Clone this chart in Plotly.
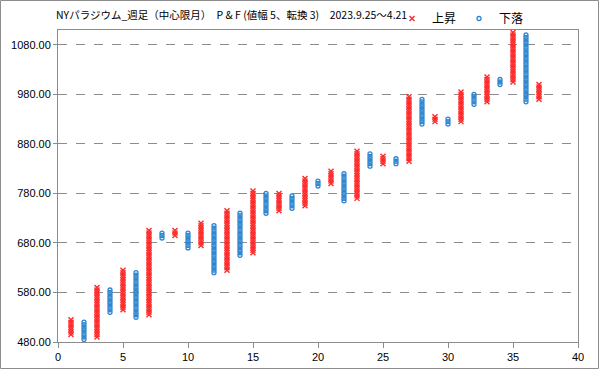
import plotly.graph_objects as go

# P&F columns (box size 5, reversal 3)
columns = list(range(1, 38))
col_type = ["X" if c % 2 == 1 else "O" for c in columns]
col_low = [495, 485, 490, 540, 545, 530, 535, 690, 695, 670, 675, 620, 625, 655, 660,
           740, 745, 750, 755, 795, 800, 765, 770, 835, 840, 840, 845, 920, 925, 920,
           925, 960, 965, 1000, 1005, 965, 970]
col_high = [525, 520, 590, 585, 625, 620, 705, 700, 705, 700, 720, 715, 745, 740, 785,
            780, 780, 775, 810, 805, 825, 820, 865, 860, 855, 850, 975, 970, 935, 930,
            985, 980, 1015, 1010, 1105, 1100, 1000]
box_size = 5
y_ticks = [480, 580, 680, 780, 880, 980, 1080]
x_ticks = [0, 5, 10, 15, 20, 25, 30, 35, 40]
title_text = "NYパラジウム_週足（中心限月）　P & F (値幅 5、転換 3)　2023.9.25～4.21"

xs_up, ys_up, xs_dn, ys_dn = [], [], [], []
for c, t, lo, hi in zip(columns, col_type, col_low, col_high):
    v = lo
    while v <= hi:
        if t == "X":
            xs_up.append(c); ys_up.append(v)
        else:
            xs_dn.append(c); ys_dn.append(v)
        v += box_size

fig = go.Figure()
fig.add_trace(go.Scatter(
    x=xs_up, y=ys_up, mode="markers", name="上昇",
    marker=dict(symbol="x-thin", size=5, line=dict(color="#FF2828", width=1.4), color="#FF2828"),
))
fig.add_trace(go.Scatter(
    x=xs_dn, y=ys_dn, mode="markers", name="下落",
    marker=dict(symbol="circle-open", size=4, line=dict(color="#2E86D0", width=1.3), color="#2E86D0"),
))

L, R, T, B = 58, 21, 30, 27
W, H = 599, 369
pw, ph = W - L - R, H - T - B

fig.update_layout(
    width=W, height=H,
    margin=dict(l=L, r=R, t=T, b=B, pad=0, autoexpand=False),
    paper_bgcolor="white", plot_bgcolor="white",
    font=dict(family="Noto Sans CJK JP, Liberation Sans, sans-serif", size=11, color="#000"),
    showlegend=True,
    legend=dict(orientation="h", x=(392 - L) / pw, xanchor="left", y=1 + (T - 4) / ph, yanchor="top",
                bgcolor="rgba(0,0,0,0)", font=dict(size=12), itemwidth=30, entrywidth=22,
                tracegroupgap=0),
    annotations=[dict(text=title_text, xref="paper", yref="paper",
                      x=(54 - L) / pw, y=1 + (T - 15) / ph, xanchor="left", yanchor="middle",
                      showarrow=False, font=dict(size=10.5, color="#000"))],
    shapes=[dict(type="rect", xref="paper", yref="paper",
                 x0=(0.5 - L) / pw, x1=(W - 0.5 - L) / pw,
                 y0=-(B - 0.5) / ph, y1=1 + (T - 0.5) / ph,
                 line=dict(color="#8c8c8c", width=1), layer="below")],
)
fig.update_xaxes(range=[0, 40], tickvals=x_ticks, ticktext=[str(v) for v in x_ticks],
                 showgrid=False, zeroline=False, showline=True, linecolor="#8c8c8c", linewidth=1,
                 mirror=True, ticks="outside", ticklen=5, tickcolor="#8c8c8c",
                 tickfont=dict(family="Liberation Sans, Arial, sans-serif", size=11))
fig.update_yaxes(range=[480, 1110], tickvals=y_ticks, ticktext=[f"{v:.2f}" for v in y_ticks],
                 showgrid=True, gridcolor="#8c8c8c", griddash="dash", gridwidth=1,
                 zeroline=False, showline=True, linecolor="#8c8c8c", linewidth=1,
                 mirror=True, ticks="outside", ticklen=4, tickcolor="#8c8c8c",
                 tickfont=dict(family="Liberation Sans, Arial, sans-serif", size=11))

fig.write_html("out.html", config={"displayModeBar": False},
               post_script="document.body.style.margin='0px';")
